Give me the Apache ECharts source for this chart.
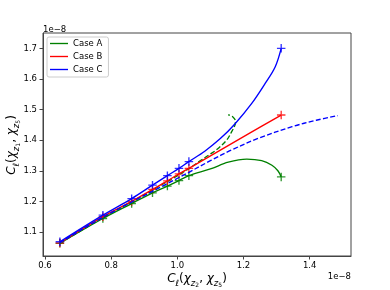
<!DOCTYPE html>
<html>
<head>
<meta charset="utf-8">
<script src="https://cdn.jsdelivr.net/npm/echarts@6/dist/echarts.min.js"></script>
<style>
html,body{margin:0;padding:0;background:#fff;}
#chart{width:390px;height:290px;}
</style>
</head>
<body>
<div id="chart"></div>
<script>
// Values in units of 1e-8
const xTicks = [0.6, 0.8, 1.0, 1.2, 1.4];
const yTicks = [1.1, 1.2, 1.3, 1.4, 1.5, 1.6, 1.7];

// x positions of the "+" markers (shared by the solid curves)
const stepX = [0.645, 0.775, 0.862, 0.925, 0.970, 1.005, 1.035];

// Case A (green)
const caseA_stepY = [1.063, 1.144, 1.193, 1.228, 1.250, 1.268, 1.284];
const caseA_tailX = [1.10, 1.154, 1.21, 1.255, 1.286, 1.304, 1.314];
const caseA_tailY = [1.306, 1.328, 1.338, 1.333, 1.318, 1.300, 1.280];
const caseA_dashX = [0.645, 0.775, 0.862, 0.925, 0.970, 1.005, 1.035, 1.07, 1.10, 1.118, 1.149, 1.164, 1.174, 1.176, 1.168, 1.154];
const caseA_dashY = [1.063, 1.147, 1.199, 1.237, 1.265, 1.287, 1.307, 1.333, 1.355, 1.368, 1.400, 1.427, 1.449, 1.462, 1.476, 1.483];

// Case B (red)
const caseB_stepY = [1.064, 1.150, 1.200, 1.239, 1.267, 1.290, 1.308];
const caseB_tailX = [1.134, 1.22, 1.314];
const caseB_tailY = [1.370, 1.424, 1.482];

// Case C (blue)
const caseC_stepY = [1.068, 1.155, 1.209, 1.253, 1.284, 1.308, 1.330];
const caseC_tailX = [1.083, 1.13, 1.174, 1.225, 1.266, 1.296, 1.314];
const caseC_tailY = [1.364, 1.405, 1.453, 1.520, 1.586, 1.640, 1.700];
const caseC_dashX = [0.645, 0.775, 0.862, 0.925, 0.970, 1.005, 1.035, 1.10, 1.164, 1.245, 1.347, 1.42, 1.485];
const caseC_dashY = [1.065, 1.148, 1.198, 1.233, 1.258, 1.278, 1.295, 1.333, 1.368, 1.406, 1.444, 1.465, 1.480];

const names = ['Case A', 'Case B', 'Case C'];
const colors = ['#008000', '#ff0000', '#0000ff'];

function zip(xs, ys) { return xs.map((x, i) => [x, ys[i]]); }
function solid(stepY, tailX, tailY) { return zip(stepX.concat(tailX), stepY.concat(tailY)); }
function marks(stepY, tailX, tailY) {
  return zip(stepX.concat([tailX[tailX.length - 1]]), stepY.concat([tailY[tailY.length - 1]]));
}

const plusPath = 'path://M4.2,0H5.8V4.2H10V5.8H5.8V10H4.2V5.8H0V4.2H4.2Z';
const FONT = 'DejaVu Sans';

const solidA = solid(caseA_stepY, caseA_tailX, caseA_tailY);
const solidB = solid(caseB_stepY, caseB_tailX, caseB_tailY);
const solidC = solid(caseC_stepY, caseC_tailX, caseC_tailY);
const marksA = marks(caseA_stepY, caseA_tailX, caseA_tailY);
const marksB = marks(caseB_stepY, caseB_tailX, caseB_tailY);
const marksC = marks(caseC_stepY, caseC_tailX, caseC_tailY);

function lineSeries(name, data, color, dashed) {
  return {
    name: name, type: 'line', data: data, smooth: 0.35, symbol: 'none', clip: false,
    lineStyle: { color: color, width: 1.35, type: dashed ? [5, 2.3] : 'solid' },
    itemStyle: { color: color }, silent: true
  };
}
function markSeries(name, data, color) {
  return {
    name: name, type: 'scatter', data: data, symbol: plusPath, symbolSize: 8.5,
    itemStyle: { color: color }, silent: true
  };
}

const series = [
  lineSeries('Case A', solidA, colors[0], false),
  markSeries('Case A +', marksA, colors[0]),
  lineSeries('Case A dashed', zip(caseA_dashX, caseA_dashY), colors[0], true),
  lineSeries('Case B', solidB, colors[1], false),
  markSeries('Case B +', marksB, colors[1]),
  lineSeries('Case C', solidC, colors[2], false),
  markSeries('Case C +', marksC, colors[2]),
  lineSeries('Case C dashed', zip(caseC_dashX, caseC_dashY), colors[2], true)
];

const rich = {
  i: { fontFamily: FONT, fontStyle: 'italic', fontSize: 12, lineHeight: 18, color: '#000' },
  n: { fontFamily: FONT, fontSize: 12, lineHeight: 18, color: '#000' },
  s: { fontFamily: FONT, fontStyle: 'italic', fontSize: 8.5, lineHeight: 9, verticalAlign: 'bottom', color: '#000' },
  ss: { fontFamily: FONT, fontSize: 6, lineHeight: 4, verticalAlign: 'bottom', color: '#000' }
};

const chart = echarts.init(document.getElementById('chart'), null, { renderer: 'canvas' });
chart.setOption({
  animation: false,
  backgroundColor: '#fff',
  grid: { left: 43, top: 33, right: 39, bottom: 34, show: true, borderColor: '#444', borderWidth: 1, backgroundColor: '#fff', outerBoundsMode: 'none' },
  xAxis: {
    type: 'value', min: 0.594, max: 1.525,
    axisLine: { show: true, lineStyle: { color: '#444', width: 1 } },
    axisTick: { show: true, length: 3.5, customValues: xTicks, lineStyle: { color: '#444' } },
    axisLabel: { customValues: xTicks, formatter: v => v.toFixed(1), fontSize: 8.5, fontFamily: FONT, color: '#000', margin: 5 },
    splitLine: { show: false }
  },
  yAxis: {
    type: 'value', min: 1.0216, max: 1.75,
    axisLine: { show: true, lineStyle: { color: '#444', width: 1 } },
    axisTick: { show: true, length: 3.5, customValues: yTicks, lineStyle: { color: '#444' } },
    axisLabel: { customValues: yTicks, formatter: v => v.toFixed(1), fontSize: 8.5, fontFamily: FONT, color: '#000', margin: 6 },
    splitLine: { show: false }
  },
  legend: {
    left: 47, top: 37, orient: 'vertical',
    data: names.map(n => ({ name: n, icon: 'path://M0,0H20V1.5H0Z' })),
    itemWidth: 18, itemHeight: 9, itemGap: 4,
    padding: [2, 6, 3, 3],
    backgroundColor: 'rgba(255,255,255,0.8)', borderColor: '#cccccc', borderWidth: 1, borderRadius: 2,
    textStyle: { fontFamily: FONT, fontSize: 8.5, color: '#000' },
    selectedMode: false
  },
  graphic: [
    { type: 'text', left: 43, top: 25, style: { text: '1e\u22128', font: '8.5px "DejaVu Sans"', fill: '#000' } },
    { type: 'text', right: 39, top: 272, style: { text: '1e\u22128', font: '8.5px "DejaVu Sans"', fill: '#000' } },
    { type: 'text', x: 197, y: 279, style: {
        text: '{i|C}{s|ℓ}{n|(}{i|χ}{s|z}{ss|2}{n|, }{i|χ}{s|z}{ss|5}{n|)}',
        rich: rich, align: 'center', verticalAlign: 'middle' } },
    { type: 'text', x: 12, y: 145, rotation: Math.PI / 2, style: {
        text: '{i|C}{s|ℓ}{n|(}{i|χ}{s|z}{ss|1}{n|, }{i|χ}{s|z}{ss|5}{n|)}',
        rich: rich, align: 'center', verticalAlign: 'middle' } }
  ],
  series: series
});
</script>
</body>
</html>
